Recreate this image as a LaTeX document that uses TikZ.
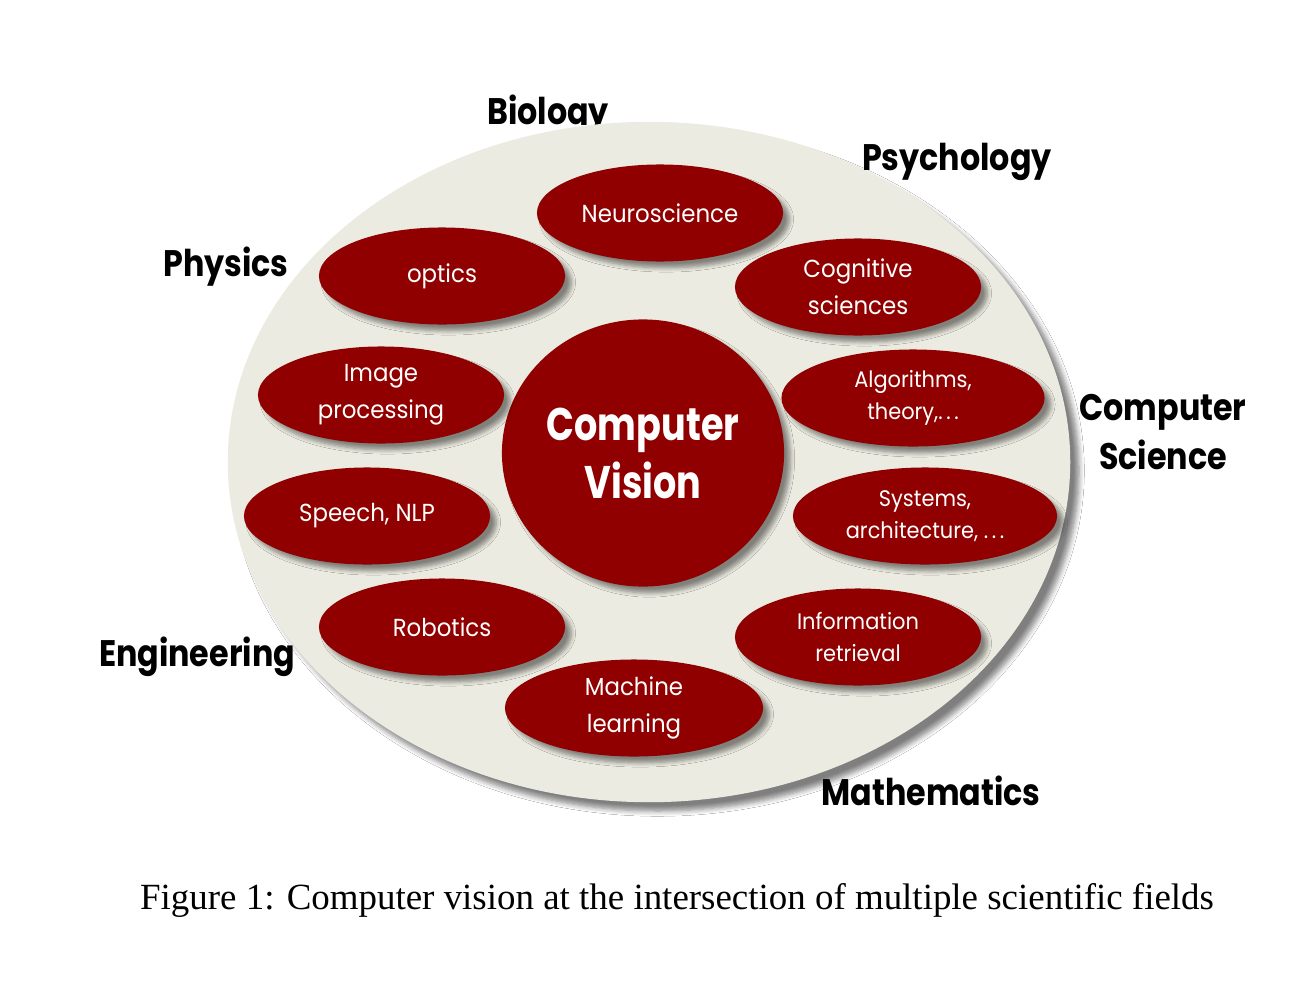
\documentclass[tikz,border=0pt]{standalone}
\usepackage{fontspec}
\setmainfont{Liberation Serif}
\newfontfamily\geo{Poppins}[FakeStretch=0.93]
\newfontfamily\geob{Poppins}[FakeStretch=0.86]
\newfontfamily\geoc{Poppins}[FakeStretch=0.8]
\usetikzlibrary{shapes.geometric,shadows.blur}
\definecolor{cvred}{RGB}{144,0,0}
\definecolor{cvbeige}{RGB}{236,235,225}
\newcommand{\dotsx}{.\kern0.16em.\kern0.16em.}
\begin{document}
\begin{tikzpicture}[x=0.01cm,y=-0.01cm,
  softshadow/.style={blur shadow={shadow xshift=1.8pt,shadow yshift=-1.8pt,shadow opacity=45,shadow blur steps=6,shadow blur radius=1.2pt}},
  bubble/.style={ellipse,fill=cvred,text=white,inner sep=0pt,minimum width=2.46cm,minimum height=0.97cm,align=center,font=\geo\fontsize{7}{10.5}\selectfont,softshadow},
  smallbubble/.style={bubble,font=\geo\fontsize{6.4}{9.2}\selectfont},
  field/.style={font=\geob\bfseries\fontsize{10.5}{13.7}\selectfont,align=center,text=black,inner sep=0pt}]
\useasboundingbox (0,0) rectangle (1304,1000);
\fill[white] (0,0) rectangle (1304,1000);
% label partly hidden behind the field
\begin{scope}
\clip (400,60) rectangle (700,124);
\node[field] (biology) at (548,115) {Biology};
\end{scope}
\node[ellipse,fill=cvbeige,minimum width=8.42cm,minimum height=6.8cm,inner sep=0pt,blur shadow={shadow xshift=2.5pt,shadow yshift=-2.5pt,shadow opacity=50,shadow blur steps=6,shadow blur radius=1.5pt}] (field) at (649,462) {};
\node[field] (psych) at (957,162) {Psychology};
\node[field] (physics) at (226,267) {Physics};
\node[field] (cs) at (1163,432) {Computer\\Science};
\node[field] (eng) at (197,657) {Engineering};
\node[field] (math) at (931,791) {Mathematics};
% central circle
\node[ellipse,fill=cvred,text=white,minimum width=2.82cm,minimum height=2.67cm,inner sep=0pt,align=center,font=\geoc\bfseries\fontsize{13}{16.5}\selectfont,softshadow] (cv) at (643,453) {Computer\\Vision};
% bubbles
\node[bubble] (neuro) at (660,213) {Neuroscience};
\node[bubble] (optics) at (442,276) {optics};
\node[bubble] (cog) at (858,287) {Cognitive\\sciences};
\node[bubble] (img) at (381,395) {Image\\processing};
\node[smallbubble,minimum width=2.63cm] (algo) at (913,398) {Algorithms,\\theory,\dotsx};
\node[bubble] (speech) at (367,516) {Speech, NLP};
\node[smallbubble,minimum width=2.64cm] (sys) at (925,516) {Systems,\\architecture, \dotsx};
\node[bubble] (robot) at (442,627) {Robotics};
\node[smallbubble] (info) at (858,637) {Information\\retrieval};
\node[bubble,minimum width=2.58cm] (ml) at (634,708) {Machine\\learning};
% caption
\node[font=\fontsize{10.5}{12.5}\selectfont,inner sep=0pt,anchor=base] (caption) at (677,909) {Figure 1: Computer vision at the intersection of multiple scientific fields};
\end{tikzpicture}
\end{document}
